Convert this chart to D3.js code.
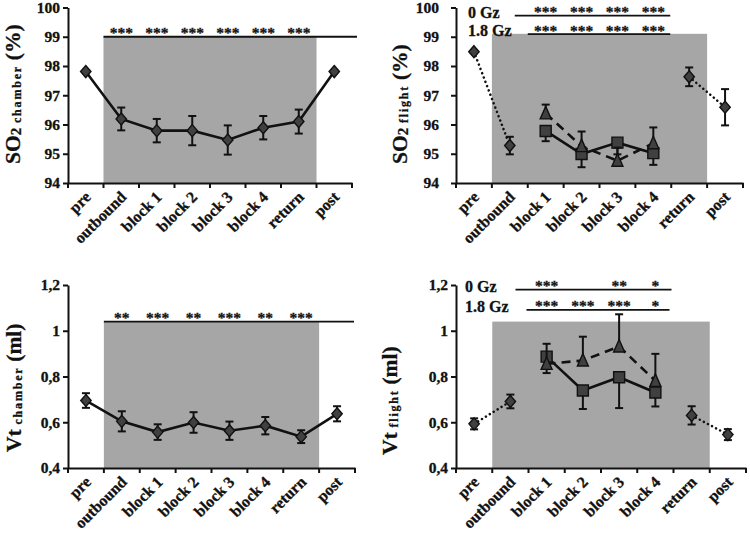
<!DOCTYPE html>
<html><head><meta charset="utf-8">
<script src="https://cdn.jsdelivr.net/npm/d3@7"></script>
<style>
body{margin:0;background:#fff}
svg{display:block}
text{font-family:"Liberation Serif","Times New Roman",serif;font-weight:bold;fill:#111;stroke:#111;stroke-width:0.3px}
</style>
</head><body><svg id="c" width="750" height="534"></svg>
<script>
// ---------- data ----------
const categories = ["pre","outbound","block 1","block 2","block 3","block 4","return","post"];
const blockCats = ["block 1","block 2","block 3","block 4"];
const sideCats = ["pre","outbound","return","post"];
const starCats = ["outbound","block 1","block 2","block 3","block 4","return"];

const so2Ticks = [94,95,96,97,98,99,100];
const so2TickLabels = ["94","95","96","97","98","99","100"];
const vtTicks = [0.4,0.6,0.8,1.0,1.2];
const vtTickLabels = ["0,4","0,6","0,8","1","1,2"];

// SO2 chamber
const so2ChamberMean = [97.81,96.19,95.79,95.79,95.47,95.89,96.10,97.81];
const so2ChamberErr  = [0,0.39,0.40,0.50,0.50,0.40,0.41,0];
const so2ChamberStars = ["***","***","***","***","***","***"];

// SO2 flight
const so2FlightDiamondMean = [98.49,95.28,97.63,96.59];
const so2FlightDiamondErr  = [0,0.30,0.32,0.62];
const so2FlightSquareMean  = [95.78,94.99,95.38,95.02];
const so2FlightSquareErr   = [0.35,0.45,0.40,0.40];
const so2FlightTriangleMean = [96.38,95.26,94.76,95.36];
const so2FlightTriangleErr  = [0.30,0.50,0.45,0.54];
const so2Flight0GzStars  = ["***","***","***","***"];
const so2Flight18GzStars = ["***","***","***","***"];

// Vt chamber
const vtChamberMean = [0.695,0.604,0.557,0.599,0.563,0.585,0.537,0.637];
const vtChamberErr  = [0.032,0.044,0.034,0.045,0.040,0.038,0.028,0.033];
const vtChamberStars = ["**","***","**","***","**","***"];

// Vt flight
const vtFlightDiamondMean = [0.593,0.691,0.630,0.546];
const vtFlightDiamondErr  = [0.024,0.030,0.040,0.024];
const vtFlightSquareMean  = [0.887,0.739,0.797,0.730];
const vtFlightSquareErr   = [0.072,0.081,0.135,0.061];
const vtFlightTriangleMean = [0.855,0.870,0.931,0.781];
const vtFlightTriangleErr  = [0.088,0.104,0.141,0.118];
const vtFlight0GzStars  = ["***","","**","*"];
const vtFlight18GzStars = ["***","***","***","*"];

// ---------- drawing ----------
const svg = d3.select("#c");
const INK = "#111";
const MARK = "#404040";
const SHADE = "#a6a6a6";

const diamondType = {draw(ctx, s){ const w=5.2,h=6; ctx.moveTo(0,-h); ctx.lineTo(w,0); ctx.lineTo(0,h); ctx.lineTo(-w,0); ctx.closePath(); }};
const squareType  = {draw(ctx, s){ const r=5.5; ctx.rect(-r,-r,2*r,2*r); }};
const triType     = {draw(ctx, s){ const w=5.5; ctx.moveTo(0,-7); ctx.lineTo(w,5.5); ctx.lineTo(-w,5.5); ctx.closePath(); }};

function makePanel(cfg){
  const g = svg.append("g");
  const x = d3.scaleBand().domain(categories).range([cfg.x0, cfg.x1]);
  const bw = x.bandwidth();
  const cx = c => x(c) + bw/2;
  const y = d3.scaleLinear().domain(cfg.yDomain).range([cfg.yBottom, cfg.yTop]);
  const yb = y(cfg.yDomain[0]);

  // shaded region
  g.append("rect")
    .attr("x", x("outbound"))
    .attr("width", x("return") + bw - x("outbound"))
    .attr("y", y(cfg.shadeTop))
    .attr("height", yb - y(cfg.shadeTop))
    .attr("fill", SHADE);

  // significance lines
  cfg.sig.forEach(s => {
    const xs = s.xStart(x, bw), xe = s.xEnd(x, bw);
    g.append("line").attr("x1", xs).attr("x2", xe)
      .attr("y1", y(s.level)).attr("y2", y(s.level))
      .attr("stroke", INK).attr("stroke-width", 1.8);
    g.selectAll(null).data(s.cats.map((c,i)=>({c, t:s.stars[i]})).filter(d=>d.t))
      .enter().append("text")
      .attr("x", d => cx(d.c)).attr("y", y(s.level) + 1.5)
      .attr("text-anchor","middle").style("font-size","15.5px")
      .text(d => d.t);
    if (s.label) {
      g.append("text").attr("x", s.labelX).attr("y", y(s.level) + 2)
        .style("font-size","16px").text(s.label);
    }
  });

  // y axis
  const ya = g.append("g").attr("transform", `translate(${cfg.x0},0)`)
    .call(d3.axisLeft(y).tickValues(cfg.ticks).tickFormat((d,i)=>cfg.tickLabels[i])
      .tickSize(5).tickSizeOuter(0).tickPadding(cfg.tickPad));
  ya.selectAll("text").style("font-size","15.5px").attr("fill", INK);
  ya.selectAll("line").attr("stroke", INK).attr("stroke-width", 2);
  ya.select(".domain").attr("stroke", INK).attr("stroke-width", 2);

  // x axis
  const xa = g.append("g").attr("transform", `translate(0,${yb})`)
    .call(d3.axisBottom(x).tickSize(0).tickSizeOuter(0).tickPadding(0));
  xa.select(".domain").attr("stroke", INK).attr("stroke-width", 2);
  xa.selectAll("text")
    .attr("y", 0).attr("dy", 0)
    .attr("transform", "translate(6,15) rotate(-45)")
    .style("text-anchor","end").style("font-size","16px").attr("fill", INK);
  const bounds = categories.map(c => x(c)).concat([cfg.x1]);
  xa.selectAll(".bt").data(bounds).enter().append("line")
    .attr("x1", d=>d).attr("x2", d=>d).attr("y1", 0).attr("y2", 5)
    .attr("stroke", INK).attr("stroke-width", 2);

  // y label
  const lab = g.append("text")
    .attr("transform", `translate(${cfg.labX},${cfg.labY}) rotate(-90)`)
    .attr("text-anchor","start");
  lab.append("tspan").style("font-size","21.5px").text(cfg.labMain);
  if (cfg.labNum) lab.append("tspan").style("font-size","15px").attr("dy", 1).text(cfg.labNum);
  lab.append("tspan").style("font-size","12px").style("letter-spacing","1.8px")
    .attr("dy", cfg.labNum ? 0 : 1).text("\u00a0" + cfg.labSub + "\u00a0");
  lab.append("tspan").style("font-size","21.5px").attr("dy", -1).text(cfg.labUnit);

  // series
  cfg.series.forEach(sr => {
    const pts = sr.cats.map((c,i) => ({c, v: sr.mean[i], lo: sr.errLo ? sr.errLo[i] : 0, hi: sr.errHi ? sr.errHi[i] : 0}));
    const line = d3.line().x(d => cx(d.c)).y(d => y(d.v));
    (sr.segments || [pts.map((d,i)=>i)]).forEach(seg => {
      g.append("path").datum(seg.map(i => pts[i]))
        .attr("d", line).attr("fill","none").attr("stroke", INK)
        .attr("stroke-width", sr.dash === "dot" ? 2.5 : 2.6)
        .attr("stroke-linecap", sr.dash === "dot" ? "round" : "butt")
        .attr("stroke-dasharray", sr.dash === "dot" ? "0.1,4.5" : sr.dash === "dash" ? "9,6" : null);
    });
    // error bars
    const eb = g.selectAll(null).data(pts.filter(d => d.lo > 0 || d.hi > 0)).enter().append("g");
    eb.append("line").attr("x1", d=>cx(d.c)).attr("x2", d=>cx(d.c))
      .attr("y1", d=>y(d.v - d.lo)).attr("y2", d=>y(d.v + d.hi))
      .attr("stroke", INK).attr("stroke-width", 2);
    eb.filter(d => d.hi > 0).append("line")
      .attr("x1", d=>cx(d.c)-4).attr("x2", d=>cx(d.c)+4)
      .attr("y1", d=>y(d.v + d.hi)).attr("y2", d=>y(d.v + d.hi))
      .attr("stroke", INK).attr("stroke-width", 2);
    eb.filter(d => d.lo > 0).append("line")
      .attr("x1", d=>cx(d.c)-4).attr("x2", d=>cx(d.c)+4)
      .attr("y1", d=>y(d.v - d.lo)).attr("y2", d=>y(d.v - d.lo))
      .attr("stroke", INK).attr("stroke-width", 2);
    // markers
    g.selectAll(null).data(pts).enter().append("path")
      .attr("d", d3.symbol().type(sr.shape).size(64))
      .attr("transform", d => `translate(${cx(d.c)},${y(d.v)})`)
      .attr("fill", MARK).attr("stroke", INK).attr("stroke-width", 1.4);
  });
}

const so2Dom = [94,100], vtDom = [0.4,1.2];

// Panel 1: SO2 chamber
makePanel({
  x0: 68, x1: 352, yDomain: so2Dom, yBottom: 183, yTop: 7.5,
  ticks: so2Ticks, tickLabels: so2TickLabels, tickPad: 3,
  shadeTop: 99,
  sig: [{level: 99, cats: starCats, stars: so2ChamberStars,
         xStart: (x,bw)=>x("outbound"), xEnd: (x,bw)=>357}],
  labX: 20, labY: 164, labMain: "SO", labNum: "2", labSub: "chamber", labUnit: "(%)",
  series: [{cats: categories, mean: so2ChamberMean, errLo: so2ChamberErr, errHi: so2ChamberErr, shape: diamondType, dash: null}]
});

// Panel 2: SO2 flight
makePanel({
  x0: 456, x1: 743, yDomain: so2Dom, yBottom: 183, yTop: 7.5,
  ticks: so2Ticks, tickLabels: so2TickLabels, tickPad: 12,
  shadeTop: 99.1,
  sig: [
    {level: 99.72, cats: blockCats, stars: so2Flight0GzStars, label: "0 Gz", labelX: 468,
     xStart: (x,bw)=>x("block 1")-13, xEnd: (x,bw)=>x("block 4")+bw-1},
    {level: 99.09, cats: blockCats, stars: so2Flight18GzStars, label: "1.8 Gz", labelX: 468,
     xStart: (x,bw)=>x("block 1"), xEnd: (x,bw)=>x("block 4")+bw-1}
  ],
  labX: 407, labY: 164, labMain: "SO", labNum: "2", labSub: "flight", labUnit: "(%)",
  series: [
    {cats: sideCats, mean: so2FlightDiamondMean, errLo: so2FlightDiamondErr, errHi: so2FlightDiamondErr, shape: diamondType, dash: "dot", segments: [[0,1],[2,3]]},
    {cats: blockCats, mean: so2FlightSquareMean, errLo: so2FlightSquareErr, errHi: null, shape: squareType, dash: null},
    {cats: blockCats, mean: so2FlightTriangleMean, errLo: null, errHi: so2FlightTriangleErr, shape: triType, dash: "dash"}
  ]
});

// Panel 3: Vt chamber
makePanel({
  x0: 68, x1: 355, yDomain: vtDom, yBottom: 468, yTop: 285,
  ticks: vtTicks, tickLabels: vtTickLabels, tickPad: 3,
  shadeTop: 1.04,
  sig: [{level: 1.04, cats: starCats, stars: vtChamberStars,
         xStart: (x,bw)=>x("outbound"), xEnd: (x,bw)=>354}],
  labX: 21, labY: 452, labMain: "Vt", labNum: null, labSub: "chamber", labUnit: "(ml)",
  series: [{cats: categories, mean: vtChamberMean, errLo: vtChamberErr, errHi: vtChamberErr, shape: diamondType, dash: null}]
});

// Panel 4: Vt flight
makePanel({
  x0: 456, x1: 746, yDomain: vtDom, yBottom: 468, yTop: 285,
  ticks: vtTicks, tickLabels: vtTickLabels, tickPad: 3,
  shadeTop: 1.04,
  sig: [
    {level: 1.18, cats: blockCats, stars: vtFlight0GzStars, label: "0 Gz", labelX: 465,
     xStart: (x,bw)=>x("block 1")-13, xEnd: (x,bw)=>x("block 4")+bw-2},
    {level: 1.091, cats: blockCats, stars: vtFlight18GzStars, label: "1.8 Gz", labelX: 465,
     xStart: (x,bw)=>x("block 1")-2, xEnd: (x,bw)=>x("block 4")+bw-4}
  ],
  labX: 397, labY: 455, labMain: "Vt", labNum: null, labSub: "flight", labUnit: "(ml)",
  series: [
    {cats: sideCats, mean: vtFlightDiamondMean, errLo: vtFlightDiamondErr, errHi: vtFlightDiamondErr, shape: diamondType, dash: "dot", segments: [[0,1],[2,3]]},
    {cats: blockCats, mean: vtFlightSquareMean, errLo: vtFlightSquareErr, errHi: null, shape: squareType, dash: null},
    {cats: blockCats, mean: vtFlightTriangleMean, errLo: null, errHi: vtFlightTriangleErr, shape: triType, dash: "dash"}
  ]
});
</script>
</body></html>
